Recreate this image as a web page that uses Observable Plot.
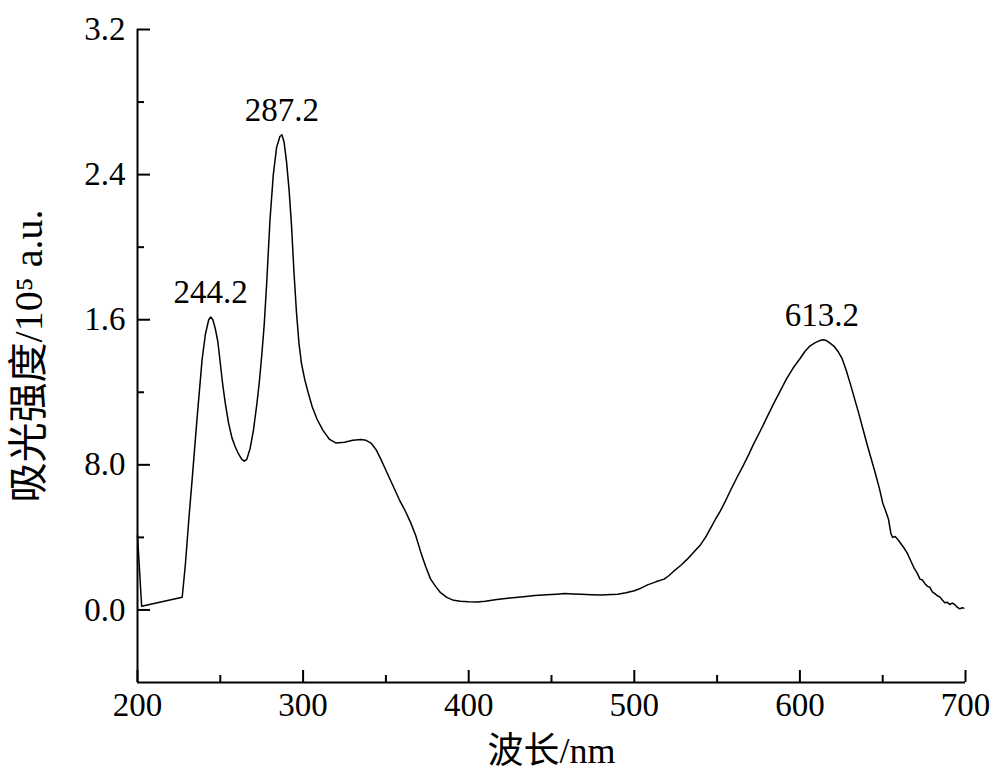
<!DOCTYPE html>
<html><head><meta charset="utf-8">
<script src="https://cdn.jsdelivr.net/npm/d3@7"></script>
<script src="https://cdn.jsdelivr.net/npm/@observablehq/plot@0.6"></script>
<style>
body{margin:0;background:#fff;}
#chart svg{display:block;}
</style></head><body><div id="chart"></div>
<script>
const wavelength = [200,202.5,227,229,231,233,236,239,241,243,244.2,245.5,247,248.5,250,251.5,253,255,257,259,261,263,264.5,266,268,270,272,273.5,275,276.5,278,280,282,284,286,287.2,288.5,290,291.5,293,294.5,296,297.5,299,301,303,305.5,308.5,312,316,320,325,330,335,338,341,344,347,350,354,358,362,365,368,371,374,377,380,383,387,391,395,400,405,410,417,425,433,440,447,453,458,463,468,474,480,486,490,495,500,504,508,513,518,521,524,528,532,536,540,543,546,549,552,555,558,562,566,569,572,576,580,584,588,592,596,600,603,606,609,612,614,616,618,620.5,623,625.5,628,630.5,633,635.5,638,640.5,643,645.5,648,650,652,653.5,655,656,657.5,659,661,663,665,667,669,671,672.5,674,675.5,677,678.5,680,681.5,683,684.5,686,687.5,689,690.5,692,693.5,695,696.5,698,699];
const intensity = [0.41,0.02,0.07,0.26,0.5,0.72,1.06,1.38,1.52,1.6,1.615,1.6,1.55,1.48,1.36,1.24,1.14,1.03,0.95,0.9,0.86,0.83,0.82,0.83,0.89,0.99,1.13,1.25,1.4,1.57,1.8,2.15,2.4,2.55,2.61,2.62,2.58,2.47,2.32,2.12,1.86,1.64,1.47,1.36,1.27,1.2,1.12,1.05,0.99,0.94,0.92,0.925,0.935,0.94,0.935,0.92,0.885,0.83,0.77,0.69,0.61,0.54,0.48,0.41,0.32,0.24,0.17,0.13,0.095,0.068,0.053,0.048,0.045,0.044,0.048,0.057,0.066,0.073,0.079,0.084,0.087,0.09,0.088,0.087,0.084,0.082,0.085,0.087,0.095,0.106,0.12,0.138,0.155,0.17,0.19,0.215,0.245,0.28,0.32,0.36,0.4,0.45,0.5,0.546,0.6,0.657,0.73,0.8,0.855,0.914,0.985,1.06,1.135,1.205,1.275,1.335,1.385,1.425,1.455,1.472,1.485,1.49,1.485,1.472,1.455,1.425,1.385,1.32,1.245,1.165,1.085,1.0,0.915,0.835,0.755,0.67,0.59,0.54,0.5,0.42,0.4,0.405,0.39,0.365,0.34,0.31,0.27,0.23,0.2,0.17,0.165,0.145,0.13,0.125,0.1,0.09,0.078,0.072,0.055,0.04,0.042,0.03,0.038,0.03,0.015,0.006,0.012,0.01];
const peakWavelength = [244.2, 287.2, 613.2];
const peakIntensity = [1.615, 2.62, 1.49];
const peakLabels = ["244.2", "287.2", "613.2"];
const xMajorTicks = [200, 300, 400, 500, 600, 700];
const xMinorTicks = [250, 350, 450, 550, 650];
const yMajorTicks = [0, 0.8, 1.6, 2.4, 3.2];
const yMajorLabels = ["0.0", "8.0", "1.6", "2.4", "3.2"];
const yMinorTicks = [0.4, 1.2, 2.0, 2.8];
const xLabel = "波长/nm";
const yLabel = "吸光强度/10⁵ a.u.";

const spectrum = wavelength.map((w, i) => ({w, v: intensity[i]}));
const peaks = peakWavelength.map((w, i) => ({w, v: peakIntensity[i], label: peakLabels[i]}));
const font = '"Liberation Serif", "Times New Roman", "Noto Sans CJK SC", serif';

const plot = Plot.plot({
  width: 1000, height: 782,
  marginLeft: 137, marginRight: 35, marginTop: 29, marginBottom: 100,
  style: {fontFamily: font, fontSize: "33px", color: "#000", background: "#fff"},
  x: {domain: [200, 700]},
  y: {domain: [-0.4, 3.2]},
  marks: [
    Plot.axisX(xMajorTicks, {tickSize: -12, tickPadding: 22, strokeWidth: 2, label: null, tickFormat: d => String(d)}),
    Plot.axisX(xMinorTicks, {tickSize: -7, tickFormat: () => "", label: null, strokeWidth: 2}),
    Plot.axisY(yMajorTicks, {tickSize: -13, tickPadding: 25, strokeWidth: 2, label: null, tickFormat: d => yMajorLabels[yMajorTicks.indexOf(d)]}),
    Plot.axisY(yMinorTicks, {tickSize: -7, tickFormat: () => "", label: null, strokeWidth: 2}),
    Plot.ruleX([200], {strokeWidth: 2}),
    Plot.ruleY([-0.4], {strokeWidth: 2}),
    Plot.line(spectrum, {x: "w", y: "v", stroke: "#000", strokeWidth: 1.5}),
    Plot.text(peaks, {x: "w", y: "v", text: "label", dy: -14, lineAnchor: "bottom", fontSize: 33}),
    Plot.text([xLabel], {frameAnchor: "bottom", dy: 80, text: d => d, fontSize: 36}),
    Plot.text([yLabel], {frameAnchor: "left", dx: -108, rotate: -90, textAnchor: "middle", text: d => d, fontSize: 40})
  ]
});
document.getElementById("chart").appendChild(plot);
</script></body></html>
